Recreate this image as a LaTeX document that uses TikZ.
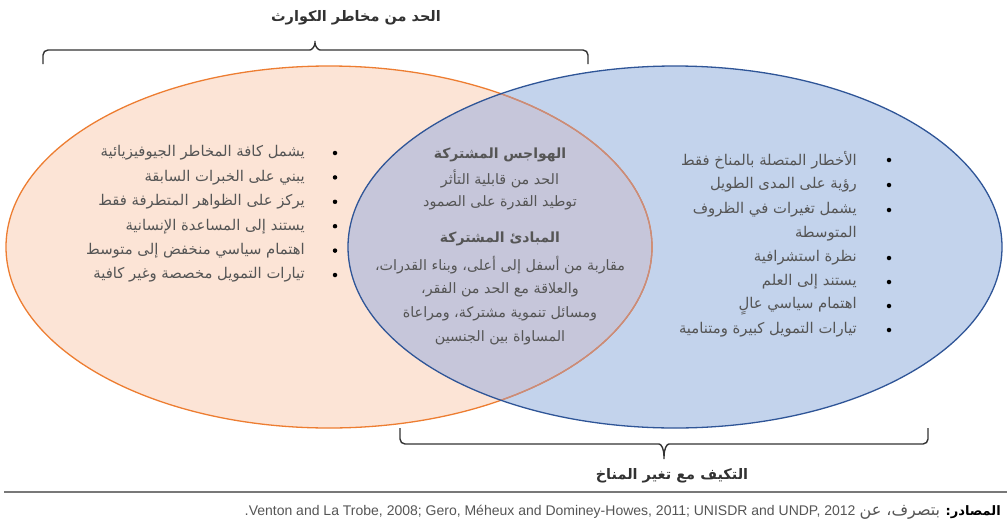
\documentclass[tikz,border=0pt]{standalone}
\usepackage{fontspec}
\setmainfont{Liberation Sans}
\newfontfamily\arabicfont[Script=Arabic]{DejaVu Sans}
\newfontfamily\narrowlatin{Liberation Sans}
\TeXXeTstate=1
\definecolor{orfill}{RGB}{252,228,214}
\definecolor{orline}{RGB}{237,125,49}
\definecolor{orfade}{RGB}{200,140,125}
\definecolor{blfill}{RGB}{195,211,236}
\definecolor{blline}{RGB}{47,85,151}
\definecolor{ovfill}{RGB}{198,198,218}
\definecolor{txtgray}{RGB}{85,85,85}
\definecolor{bracegray}{RGB}{50,50,50}
\begin{document}
\begin{tikzpicture}[x=1pt,y=-1pt,
  item/.style={anchor=east, text=txtgray, inner sep=0pt, font=\arabicfont\fontsize{14.8}{16}\selectfont},
  mid/.style={anchor=center, text=txtgray, inner sep=0pt, font=\arabicfont\fontsize{14.3}{16}\selectfont},
  midhead/.style={mid, font=\arabicfont\bfseries\fontsize{14}{16}\selectfont},
  dot/.style={circle, fill=black, inner sep=0pt, minimum size=4.5pt},
  title/.style={anchor=center, text=bracegray, inner sep=0pt, font=\arabicfont\bfseries\fontsize{14.5}{16}\selectfont},
  bracestyle/.style={draw=bracegray, line width=1.4pt, rounded corners=5pt}]
\useasboundingbox (0,0) rectangle (1007,528);

% ellipses
\fill[orfill] (329,247) ellipse [x radius=323pt, y radius=181pt];
\fill[blfill] (675,247) ellipse [x radius=327pt, y radius=181pt];
\begin{scope}
  \clip (329,247) ellipse [x radius=323pt, y radius=181pt];
  \fill[ovfill] (675,247) ellipse [x radius=327pt, y radius=181pt];
\end{scope}
\draw[orline, line width=1.3pt] (329,247) ellipse [x radius=323pt, y radius=181pt];
\begin{scope}
  \clip (675,247) ellipse [x radius=327pt, y radius=181pt];
  \draw[orfade, line width=1.3pt] (329,247) ellipse [x radius=323pt, y radius=181pt];
\end{scope}
\draw[blline, line width=1.3pt] (675,247) ellipse [x radius=327pt, y radius=181pt];

% top brace and title
\draw[bracestyle] (43,64) -- (43,50) -- (305,50) .. controls (312,50) and (315,46) .. (315,38) .. controls (315,46) and (318,50) .. (325,50) -- (588,50) -- (588,64);
\node[title] (ttop) at (356,18) {\beginR الحد من مخاطر الكوارث\endR};

% bottom brace and title
\draw[bracestyle] (400,428) -- (400,444) -- (654,444) .. controls (661,444) and (664,448) .. (664,462) .. controls (664,448) and (667,444) .. (674,444) -- (928,444) -- (928,428);
\node[title] (tbot) at (672,476) {\beginR التكيف مع تغير المناخ\endR};

% left list
\foreach \t [count=\i] in {يشمل كافة المخاطر الجيوفيزيائية, يبني على الخبرات السابقة, يركز على الظواهر المتطرفة فقط, يستند إلى المساعدة الإنسانية, اهتمام سياسي منخفض إلى متوسط, تيارات التمويل مخصصة وغير كافية}{
  \pgfmathsetmacro{\yy}{153+24.4*(\i-1)}
  \node[item] (l\i) at (305,\yy) {\beginR\t\endR};
  \node[dot] (ld\i) at (335,\yy) {};
}

% right list
\node[item] (r1) at (857,160) {\beginR الأخطار المتصلة بالمناخ فقط\endR};
\node[item] (r2) at (857,185) {\beginR رؤية على المدى الطويل\endR};
\node[item] (r3) at (857,210) {\beginR يشمل تغيرات في الظروف\endR};
\node[item] (r3b) at (857,234) {\beginR المتوسطة\endR};
\node[item] (r4) at (857,258) {\beginR نظرة استشرافية\endR};
\node[item] (r5) at (857,282) {\beginR يستند إلى العلم\endR};
\node[item] (r6) at (857,306) {\beginR اهتمام سياسي عالٍ\endR};
\node[item] (r7) at (857,330) {\beginR تيارات التمويل كبيرة ومتنامية\endR};
\foreach \n/\yy in {1/160,2/185,3/210,4/258,5/282,6/306,7/330}{
  \node[dot] (rd\n) at (889,\yy) {};
}

% middle
\node[midhead] (m1) at (500,155) {\beginR الهواجس المشتركة\endR};
\node[mid] (m2) at (500,179) {\beginR الحد من قابلية التأثر\endR};
\node[mid] (m3) at (500,203) {\beginR توطيد القدرة على الصمود\endR};
\node[midhead] (m4) at (500,239) {\beginR المبادئ المشتركة\endR};
\node[mid] (m5) at (500,265) {\beginR مقاربة من أسفل إلى أعلى، وبناء القدرات،\endR};
\node[mid] (m6) at (500,290) {\beginR والعلاقة مع الحد من الفقر،\endR};
\node[mid] (m7) at (500,314) {\beginR ومسائل تنموية مشتركة، ومراعاة\endR};
\node[mid] (m8) at (500,338) {\beginR المساواة بين الجنسين\endR};

% footer
\draw[draw={rgb,255:red,120;green,120;blue,120}, line width=1.6pt] (4,492) -- (1007,492);
\node[anchor=east, inner sep=0pt, text=txtgray] (src) at (1001,512) {\arabicfont\fontsize{13}{14}\selectfont\beginR{\bfseries\color{black!85}المصادر:} {\fontsize{16}{16}\selectfont بتصرف، عن} \beginL{\narrowlatin\fontsize{14}{14}\selectfont Venton and La Trobe, 2008; Gero, Méheux and Dominey-Howes, 2011; UNISDR and UNDP, 2012}\endL.\endR};
\end{tikzpicture}
\end{document}
